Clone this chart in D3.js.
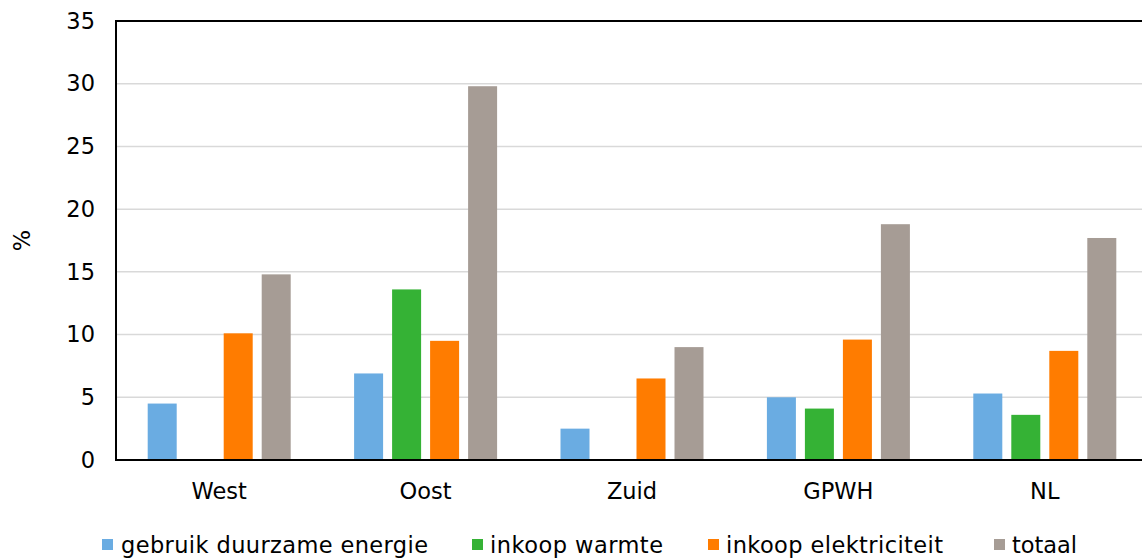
<!DOCTYPE html>
<html>
<head>
<meta charset="utf-8">
<script src="https://cdn.jsdelivr.net/npm/d3@7/dist/d3.min.js"></script>
<style>
  html, body { margin: 0; padding: 0; background: #fff; }
  svg { display: block; font-family: "DejaVu Sans", Verdana, sans-serif; }
</style>
</head>
<body>
<svg id="chart" width="1142" height="559"></svg>
<script>
// Regions on the x axis
const regions = ["West", "Oost", "Zuid", "GPWH", "NL"];

// Share (%) per series, one value per region (null = no bar)
const gebruikDuurzaam = [4.5, 6.9, 2.5, 5.0, 5.3];
const inkoopWarmte = [null, 13.6, null, 4.1, 3.6];
const inkoopElektriciteit = [10.1, 9.5, 6.5, 9.6, 8.7];
const totaal = [14.8, 29.8, 9.0, 18.8, 17.7];

const seriesNames = ["gebruik duurzame energie", "inkoop warmte", "inkoop elektriciteit", "totaal"];
const seriesValues = [gebruikDuurzaam, inkoopWarmte, inkoopElektriciteit, totaal];
const seriesColors = ["#6aace2", "#35b235", "#ff7c00", "#a69c95"];

const yTicks = [0, 5, 10, 15, 20, 25, 30, 35];

const svg = d3.select("#chart");
const W = 1142, H = 559;
// the plot area runs a little past the right edge of the canvas
const plotLeft = 116, plotRight = 1148, plotTop = 21, plotBottom = 460;
const fontSize = 22.5;

const x = d3.scaleBand().domain(regions).range([plotLeft, plotRight]).paddingInner(0).paddingOuter(0);

// bars inside each region: 38px step, 29px wide
const barStep = 38, barW = 29;
const pad = (barStep - barW) / barStep;
const xs = d3.scaleBand().domain(d3.range(seriesNames.length))
  .range([0, barStep * seriesNames.length]).paddingInner(pad).paddingOuter(pad / 2);
const groupOffset = (x.bandwidth() - barStep * seriesNames.length) / 2;

const y = d3.scaleLinear().domain([0, 35]).range([plotBottom, plotTop]);

// gridlines
svg.append("g").selectAll("line").data(yTicks.filter(t => t > 0 && t < 35)).join("line")
  .attr("x1", plotLeft).attr("x2", W)
  .attr("y1", d => y(d)).attr("y2", d => y(d))
  .attr("stroke", "#d9d9d9").attr("stroke-width", 1.5);

// bars
const bars = [];
seriesValues.forEach((vals, si) => {
  vals.forEach((v, ri) => {
    if (v != null) bars.push({ si, region: regions[ri], v });
  });
});
svg.append("g").selectAll("rect").data(bars).join("rect")
  .attr("x", d => x(d.region) + groupOffset + xs(d.si))
  .attr("width", xs.bandwidth())
  .attr("y", d => y(d.v))
  .attr("height", d => y(0) - y(d.v))
  .attr("fill", d => seriesColors[d.si]);

// y axis labels
const yAxis = d3.axisLeft(y).tickValues(yTicks).tickSize(0).tickPadding(21);
const gy = svg.append("g").attr("transform", `translate(${plotLeft},0)`).call(yAxis);
gy.select(".domain").remove();
gy.selectAll("text").attr("font-size", fontSize).attr("fill", "#000")
  .attr("font-family", "DejaVu Sans, Verdana, sans-serif");

// x axis labels
const xAxis = d3.axisBottom(x).tickSize(0).tickPadding(23);
const gx = svg.append("g").attr("transform", `translate(0,${y(0)})`).call(xAxis);
gx.select(".domain").remove();
gx.selectAll("text").attr("font-size", fontSize).attr("fill", "#000")
  .attr("font-family", "DejaVu Sans, Verdana, sans-serif");

// axis frame lines
svg.append("line").attr("x1", plotLeft).attr("x2", plotLeft)
  .attr("y1", y(35)).attr("y2", y(0)).attr("stroke", "#000").attr("stroke-width", 2);
svg.append("line").attr("x1", plotLeft - 1).attr("x2", W)
  .attr("y1", y(0)).attr("y2", y(0)).attr("stroke", "#000").attr("stroke-width", 2);
svg.append("line").attr("x1", plotLeft - 1).attr("x2", W)
  .attr("y1", y(35)).attr("y2", y(35)).attr("stroke", "#000").attr("stroke-width", 2);

// y axis title
svg.append("text").attr("transform", `translate(30,${y(17.5)}) rotate(-90)`)
  .attr("text-anchor", "middle").attr("font-size", fontSize).text("%");

// legend
const legendX = [102, 472, 708, 994];
const legendTextW = [307, 173, 217, 65];
const lg = svg.append("g").selectAll("g").data(seriesNames).join("g")
  .attr("transform", (d, i) => `translate(${legendX[i]},539)`);
lg.append("rect").attr("width", 11).attr("height", 11).attr("fill", (d, i) => seriesColors[i]);
lg.append("text").attr("x", (d, i) => i === 0 ? 19 : 18).attr("y", 14).attr("font-size", fontSize)
  .attr("textLength", (d, i) => legendTextW[i]).attr("lengthAdjust", "spacing")
  .text(d => d);
</script>
</body>
</html>
